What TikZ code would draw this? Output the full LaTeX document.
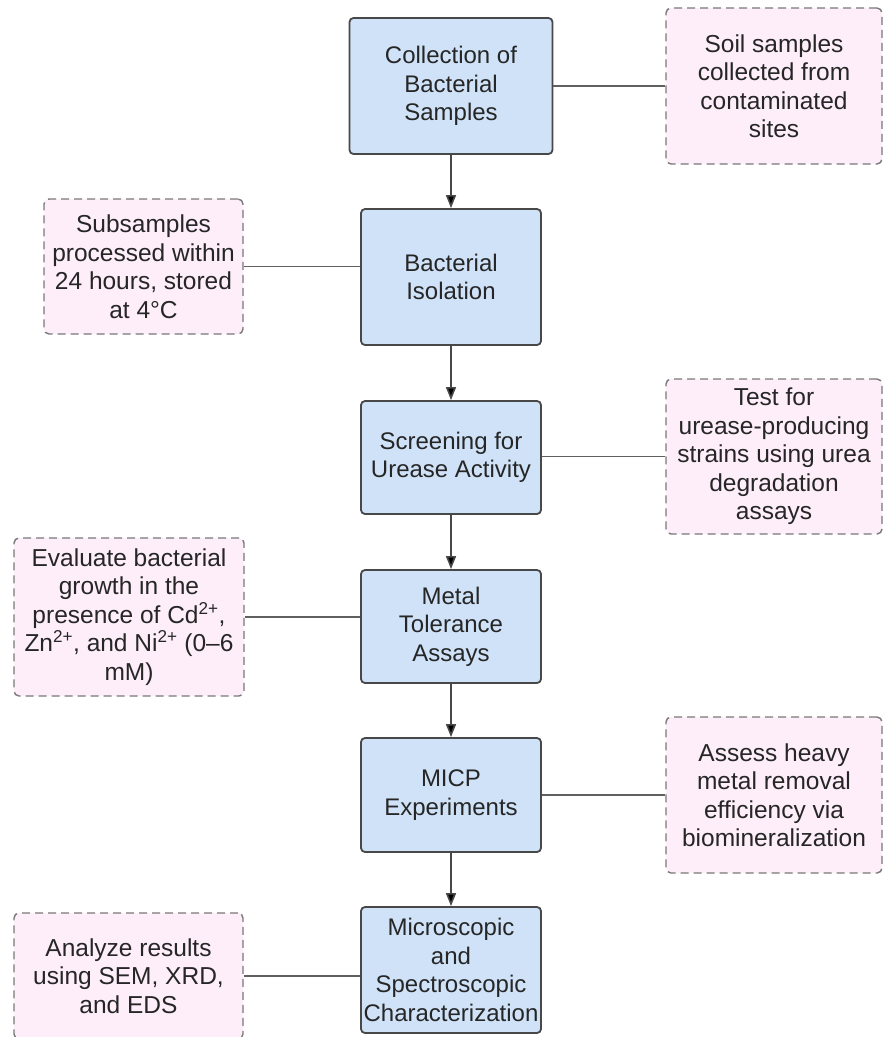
\documentclass[tikz,border=0pt]{standalone}
\usepackage{fontspec}
\setmainfont{Liberation Sans}
\usetikzlibrary{arrows.meta}

\definecolor{stepblue}{RGB}{207,226,248}
\definecolor{notepink}{RGB}{253,238,250}
\definecolor{linegray}{RGB}{72,72,72}
\definecolor{dashgray}{RGB}{120,120,120}

\tikzset{
  mainbox/.style={draw=linegray,line width=1.8pt,fill=stepblue,rounded corners=4pt,
    align=center,inner sep=0pt,text=black!85,font=\fontsize{24}{28.5}\selectfont},
  notebox/.style={draw=dashgray,line width=1.4pt,dash pattern=on 8pt off 5pt,fill=notepink,
    rounded corners=5pt,align=center,inner sep=0pt,text=black!85,font=\fontsize{24.5}{28.5}\selectfont},
}

\begin{document}
\begin{tikzpicture}
        [x=1pt,y=-1pt,>={Triangle[width=10pt,length=13pt]},line width=1.6pt]
        \useasboundingbox (0,0) rectangle (884,1037);

        % main steps
        \node[mainbox,minimum width=203pt,minimum height=136pt] (collect) at (451,86) {Collection of\\Bacterial\\Samples};
        \node[mainbox,minimum width=180pt,minimum height=136pt] (isolate) at (451,277) {Bacterial\\Isolation};
        \node[mainbox,minimum width=180pt,minimum height=113pt] (screen) at (451,457.5) {Screening for\\Urease Activity};
        \node[mainbox,minimum width=180pt,minimum height=113pt] (metal) at (451,626.5) {Metal\\Tolerance\\Assays};
        \node[mainbox,minimum width=180pt,minimum height=114pt] (micp) at (451,795) {MICP\\Experiments};
        \node[mainbox,minimum width=180pt,minimum height=126pt] (charac) at (451,970) {Microscopic\\and\\Spectroscopic\\Characterization};

        % side notes
        \node[notebox,minimum width=216pt,minimum height=156pt] (soil) at (774,86) {Soil samples\\collected from\\contaminated\\sites};
        \node[notebox,minimum width=199pt,minimum height=135pt] (subs) at (143.5,266.5) {Subsamples\\processed within\\24 hours, stored\\at 4°C};
        \node[notebox,minimum width=216pt,minimum height=155pt] (test) at (774,456.5) {Test for\\urease-producing\\strains using urea\\degradation\\assays};
        \node[notebox,minimum width=230pt,minimum height=158pt] (eval) at (129,617) {Evaluate bacterial\\growth in the\\presence of Cd\textsuperscript{2+},\\Zn\textsuperscript{2+}, and Ni\textsuperscript{2+} (0–6\\mM)};
        \node[notebox,minimum width=216pt,minimum height=156pt] (assess) at (774,795) {Assess heavy\\metal removal\\efficiency via\\biomineralization};
        \node[notebox,minimum width=229pt,minimum height=126pt] (analyze) at (128.5,976) {Analyze results\\using SEM, XRD,\\and EDS};

        \path [->,draw=linegray] (collect) edge (isolate);
        \path [->,draw=linegray] (isolate) edge (screen);
        \path [->,draw=linegray] (screen) edge (metal);
        \path [->,draw=linegray] (metal) edge (micp);
        \path [->,draw=linegray] (micp) edge (charac);

        \draw [dashgray!80!black,line width=1.4pt] (collect) -- (soil);
        \draw [dashgray!80!black,line width=1.4pt] (subs) -- (subs -| isolate.west);
        \draw [dashgray!80!black,line width=1.4pt] (test) -- (test -| screen.east);
        \draw [dashgray!80!black,line width=1.4pt] (eval) -- (eval -| metal.west);
        \draw [dashgray!80!black,line width=1.4pt] (micp) -- (assess);
        \draw [dashgray!80!black,line width=1.4pt] (analyze) -- (analyze -| charac.west);

    \end{tikzpicture}
\end{document}
